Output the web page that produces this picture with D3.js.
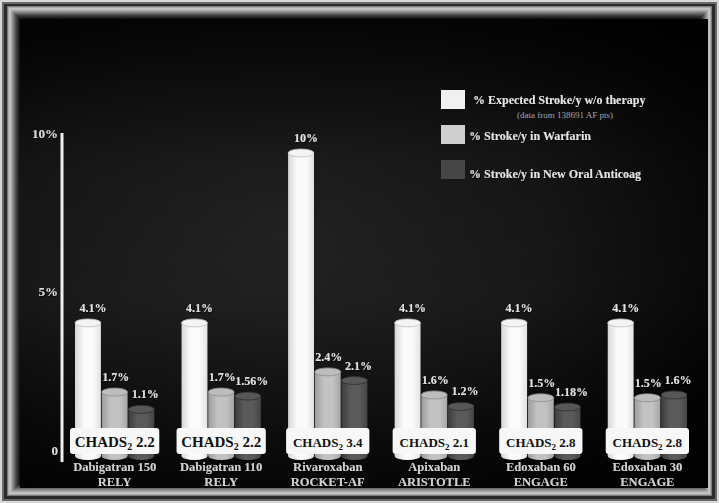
<!DOCTYPE html>
<html>
<head>
<meta charset="utf-8">
<script src="https://cdn.jsdelivr.net/npm/d3@7/dist/d3.min.js"></script>
<style>
  html, body { margin: 0; padding: 0; background: #ffffff; }
  svg { display: block; }
  text { font-family: "Liberation Serif", "Times New Roman", serif; font-weight: bold; }
</style>
</head>
<body>
<svg id="chart" width="719" height="503"></svg>
<script>
// Trials and their results
const drugs = ["Dabigatran 150", "Dabigatran 110", "Rivaroxaban", "Apixaban", "Edoxaban 60", "Edoxaban 30"];
const trials = ["RELY", "RELY", "ROCKET-AF", "ARISTOTLE", "ENGAGE", "ENGAGE"];
const chadsScores = ["2.2", "2.2", "3.4", "2.1", "2.8", "2.8"];

// % stroke per year
const expectedStroke = [4.1, 4.1, 10, 4.1, 4.1, 4.1];
const warfarinStroke = [1.7, 1.7, 2.4, 1.6, 1.5, 1.5];
const noacStroke = [1.1, 1.56, 2.1, 1.2, 1.18, 1.6];

const seriesNames = ["% Expected Stroke/y w/o therapy", "% Stroke/y in Warfarin", "% Stroke/y in New Oral Anticoag"];
const legendNote = "(data from 138691 AF pts)";

const axisTicks = [0, 5, 10];
const axisTickLabels = ["0", "5%", "10%"];

const svg = d3.select("#chart");
const W = 719, H = 503;
const defs = svg.append("defs");

// soft shadow behind light labels
const glow = defs.append("filter").attr("id", "glow").attr("x", "-20%").attr("y", "-40%").attr("width", "140%").attr("height", "180%");
glow.append("feDropShadow").attr("dx", 0.6).attr("dy", 0.8).attr("stdDeviation", 0.6).attr("flood-color", "#000").attr("flood-opacity", 0.9);

// ---- frame ----
svg.append("rect").attr("width", W).attr("height", H).attr("fill", "#d8d8d8");
svg.append("rect").attr("x", 2).attr("y", 2).attr("width", W - 4).attr("height", H - 4).attr("fill", "#6a6a6a");
svg.append("rect").attr("x", 4).attr("y", 4).attr("width", W - 8).attr("height", H - 8).attr("fill", "#2a2a2a");
const bevel = ["#7a7a7a", "#a8a8a8", "#c4c4c4", "#bdbdbd", "#aaaaaa", "#959595", "#808080", "#6a6a6a", "#555555", "#414141", "#313131", "#222222", "#161616"];
bevel.forEach((c, i) => {
  const inset = 7 + i;
  svg.append("rect")
    .attr("x", inset).attr("y", inset - 1)
    .attr("width", W - 2 * inset).attr("height", H - 2 * inset + 1)
    .attr("fill", c);
});

// ---- background ----
const bg = defs.append("radialGradient").attr("id", "bg")
  .attr("cx", "38%").attr("cy", "45%").attr("r", "70%");
bg.append("stop").attr("offset", "0%").attr("stop-color", "#242424");
bg.append("stop").attr("offset", "55%").attr("stop-color", "#181818");
bg.append("stop").attr("offset", "100%").attr("stop-color", "#040404");
const inner = { x: 20, y: 19, w: 688, h: 469 };
svg.append("rect").attr("x", inner.x).attr("y", inner.y).attr("width", inner.w).attr("height", inner.h).attr("fill", "url(#bg)");
const topShade = defs.append("linearGradient").attr("id", "topShade").attr("x1", 0).attr("y1", 0).attr("x2", 0).attr("y2", 1);
topShade.append("stop").attr("offset", "0%").attr("stop-color", "#000").attr("stop-opacity", 0.75);
topShade.append("stop").attr("offset", "30%").attr("stop-color", "#000").attr("stop-opacity", 0.15);
topShade.append("stop").attr("offset", "60%").attr("stop-color", "#000").attr("stop-opacity", 0);
topShade.append("stop").attr("offset", "100%").attr("stop-color", "#000").attr("stop-opacity", 0.55);
svg.append("rect").attr("x", inner.x).attr("y", inner.y).attr("width", inner.w).attr("height", inner.h).attr("fill", "url(#topShade)");

// ---- scales ----
const y = d3.scaleLinear().domain([0, 10]).range([441, 153]);
const yAxisScale = d3.scaleLinear().domain([0, 10]).range([450, 133]);
const x = d3.scaleBand().domain(drugs).range([75, 687]).paddingInner(0.256).paddingOuter(0);
const seriesKeys = [0, 1, 2];
const xs = d3.scaleBand().domain(seriesKeys).range([0, x.bandwidth()]).paddingInner(0.03);
const seriesData = [expectedStroke, warfarinStroke, noacStroke];
const labelNudge = [5, 1, 4];

// cylinder shading per series: [edge, mid, edge, top, rim]
const shades = [
  ["#d6d6d6", "#fbfbfb", "#e2e2e2", "#f4f4f4", "#bdbdbd"],
  ["#9c9c9c", "#c2c2c2", "#a6a6a6", "#bdbdbd", "#8a8a8a"],
  ["#3c3c3c", "#5a5a5a", "#454545", "#575757", "#2f2f2f"]
];
shades.forEach((s, i) => {
  const g = defs.append("linearGradient").attr("id", "cyl" + i).attr("x1", 0).attr("x2", 1).attr("y1", 0).attr("y2", 0);
  g.append("stop").attr("offset", "0%").attr("stop-color", s[0]);
  g.append("stop").attr("offset", "35%").attr("stop-color", s[1]);
  g.append("stop").attr("offset", "70%").attr("stop-color", s[1]);
  g.append("stop").attr("offset", "100%").attr("stop-color", s[2]);
});

// ---- y axis ----
svg.append("line")
  .attr("x1", 62).attr("x2", 62)
  .attr("y1", yAxisScale(10)).attr("y2", 462)
  .attr("stroke", "#eeeeee").attr("stroke-width", 3);
const axisG = svg.append("g").attr("transform", "translate(58,0)")
  .call(d3.axisLeft(yAxisScale).tickValues(axisTicks).tickSize(0).tickPadding(0)
    .tickFormat((d, i) => axisTickLabels[i]));
axisG.select(".domain").remove();
axisG.selectAll("text")
  .attr("fill", "#dcdcdc")
  .attr("filter", "url(#glow)")
  .style("font-size", "13px")
  .style("font-family", "'Liberation Serif', serif")
  .style("font-weight", "bold");

// ---- bars ----
const bottomY = 456;
const ry = 4;
const groups = svg.append("g").selectAll("g.grp")
  .data(drugs).join("g")
  .attr("class", "grp")
  .attr("transform", d => `translate(${x(d)},0)`);

seriesKeys.forEach(k => {
  const bw = xs.bandwidth();
  const cyl = groups.append("g").attr("transform", `translate(${xs(k)},0)`);
  cyl.append("ellipse")
    .attr("cx", bw / 2).attr("cy", bottomY).attr("rx", bw / 2).attr("ry", ry)
    .attr("fill", `url(#cyl${k})`);
  cyl.append("rect")
    .attr("x", 0).attr("width", bw)
    .attr("y", (d, i) => y(seriesData[k][i]))
    .attr("height", (d, i) => bottomY - y(seriesData[k][i]))
    .attr("fill", `url(#cyl${k})`);
  cyl.append("ellipse")
    .attr("cx", bw / 2).attr("cy", (d, i) => y(seriesData[k][i]))
    .attr("rx", bw / 2).attr("ry", ry)
    .attr("fill", shades[k][3]).attr("stroke", shades[k][4]).attr("stroke-width", 0.8);
  cyl.append("text")
    .attr("x", bw / 2 + labelNudge[k])
    .attr("y", (d, i) => y(seriesData[k][i]) - 11)
    .attr("text-anchor", "middle")
    .attr("fill", "#e2e2e2")
    .attr("filter", "url(#glow)")
    .style("font-size", "12px")
    .text((d, i) => seriesData[k][i] + "%");
});

// ---- CHADS2 boxes ----
groups.append("rect")
  .attr("x", (d, i) => i < 2 ? -5 : -2)
  .attr("width", (d, i) => x.bandwidth() + (i < 2 ? 10 : 4))
  .attr("y", 428).attr("height", 26).attr("rx", 3)
  .attr("fill", "#f7f7f7");
const chadsText = groups.append("text")
  .attr("x", x.bandwidth() / 2)
  .attr("y", 447)
  .attr("text-anchor", "middle")
  .attr("fill", "#111")
  .style("font-size", (d, i) => i < 2 ? "15px" : "13px");
chadsText.append("tspan").text("CHADS");
chadsText.append("tspan").attr("dy", 3).style("font-size", (d, i) => i < 2 ? "10px" : "9px").text("2");
chadsText.append("tspan").attr("dy", -3).text((d, i) => " " + chadsScores[i]);

// ---- category labels ----
groups.append("text")
  .attr("x", x.bandwidth() / 2).attr("y", 471)
  .attr("text-anchor", "middle").attr("fill", "#d0d0d0")
  .attr("filter", "url(#glow)")
  .style("font-size", "12.5px")
  .text(d => d);
groups.append("text")
  .attr("x", x.bandwidth() / 2).attr("y", 486)
  .attr("text-anchor", "middle").attr("fill", "#d0d0d0")
  .attr("filter", "url(#glow)")
  .style("font-size", "12.5px")
  .text((d, i) => trials[i]);

// ---- legend ----
const legendColors = ["#f0f0f0", "#cfcfcf", "#454545"];
const legendY = [90, 125, 160];
const legendTextX = [473, 469, 469];
const legendTextY = [104, 140, 178];
const legend = svg.append("g");
seriesKeys.forEach(k => {
  legend.append("rect")
    .attr("x", 441).attr("y", legendY[k]).attr("width", 24).attr("height", 19)
    .attr("fill", legendColors[k]);
  legend.append("text")
    .attr("x", legendTextX[k]).attr("y", legendTextY[k])
    .attr("fill", "#e4e4e4")
    .attr("filter", "url(#glow)")
    .style("font-size", "12px")
    .text(seriesNames[k]);
});
legend.append("text")
  .attr("x", 565).attr("y", 118)
  .attr("text-anchor", "middle")
  .attr("fill", "#a8a8a8")
  .style("font-size", "9px").style("font-weight", "normal")
  .text(legendNote);
</script>
</body>
</html>
